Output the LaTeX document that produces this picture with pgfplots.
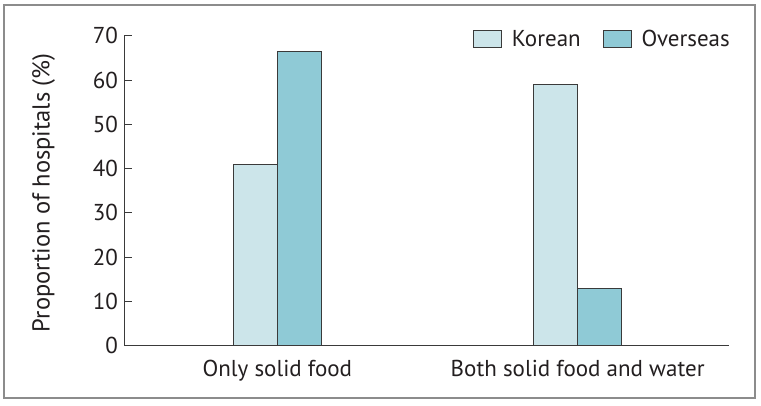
\documentclass[border=0pt]{standalone}
\usepackage{pgfplots}
\pgfplotsset{compat=1.18}
\usepackage{fontspec}
\setmainfont{PT Sans}
\definecolor{korean}{HTML}{CCE5EA}
\definecolor{overseas}{HTML}{8FCAD6}
\definecolor{edge}{HTML}{3A3A3A}
\definecolor{txt}{HTML}{231F20}
\begin{document}
\begin{tikzpicture}
\path[use as bounding box] (-124.5pt,-59.2pt) rectangle (636.5pt,345.8pt);
\fill[white] (-124.5pt,-59.2pt) rectangle (636.5pt,345.8pt);
\begin{axis}[
  at={(0pt,0pt)}, anchor=south west,
  scale only axis, width=604.5pt, height=310.1pt,
  ybar=0pt, bar width=44pt,
  xmin=-0.509, xmax=1.504, ymin=0, ymax=70,
  axis x line*=bottom, axis y line*=left,
  axis line style={edge, line width=0.9pt},
  xtick={0,1}, xticklabels={Only solid food, Both solid food and water},
  major x tick style={draw=none},
  ytick={0,10,...,70},
  tick align=inside, major tick length=8pt,
  y tick style={edge, line width=0.9pt},
  /pgf/number format/assume math mode=true,
  font=\fontsize{23}{27}\selectfont\color{txt},
  ticklabel style={font=\fontsize{23}{27}\selectfont\color{txt}},
  yticklabel style={xshift=-3pt},
  xticklabel style={anchor=base, yshift=-31pt},
  ylabel={Proportion of hospitals (\%)},
  every axis y label/.style={at={(axis description cs:0,0.5)}, xshift=-81pt, yshift=-2pt, rotate=90, anchor=center, font=\fontsize{24.5}{28}\selectfont\color{txt}},
  legend columns=2,
  legend style={draw=none, fill=none, at={(axis description cs:1,1)}, anchor=east, xshift=6pt, yshift=-3pt,
    font=\fontsize{23}{27}\selectfont\color{txt},
    /tikz/every odd column/.append style={column sep=8pt},
    /tikz/every even column/.append style={column sep=20pt}},
  legend image code/.code={\draw[#1, line width=0.9pt] (0pt,-8.5pt) rectangle (28pt,8.5pt);},
]
\addplot[fill=korean, draw=edge, line width=0.9pt] coordinates {(0,41) (1,59)};
\addplot[fill=overseas, draw=edge, line width=0.9pt] coordinates {(0,66.5) (1,13)};
\legend{Korean, Overseas}
\end{axis}
\draw[black!45, line width=1.8pt] (-120.5pt,-52.2pt) rectangle (630.5pt,340.8pt);
\end{tikzpicture}
\end{document}
